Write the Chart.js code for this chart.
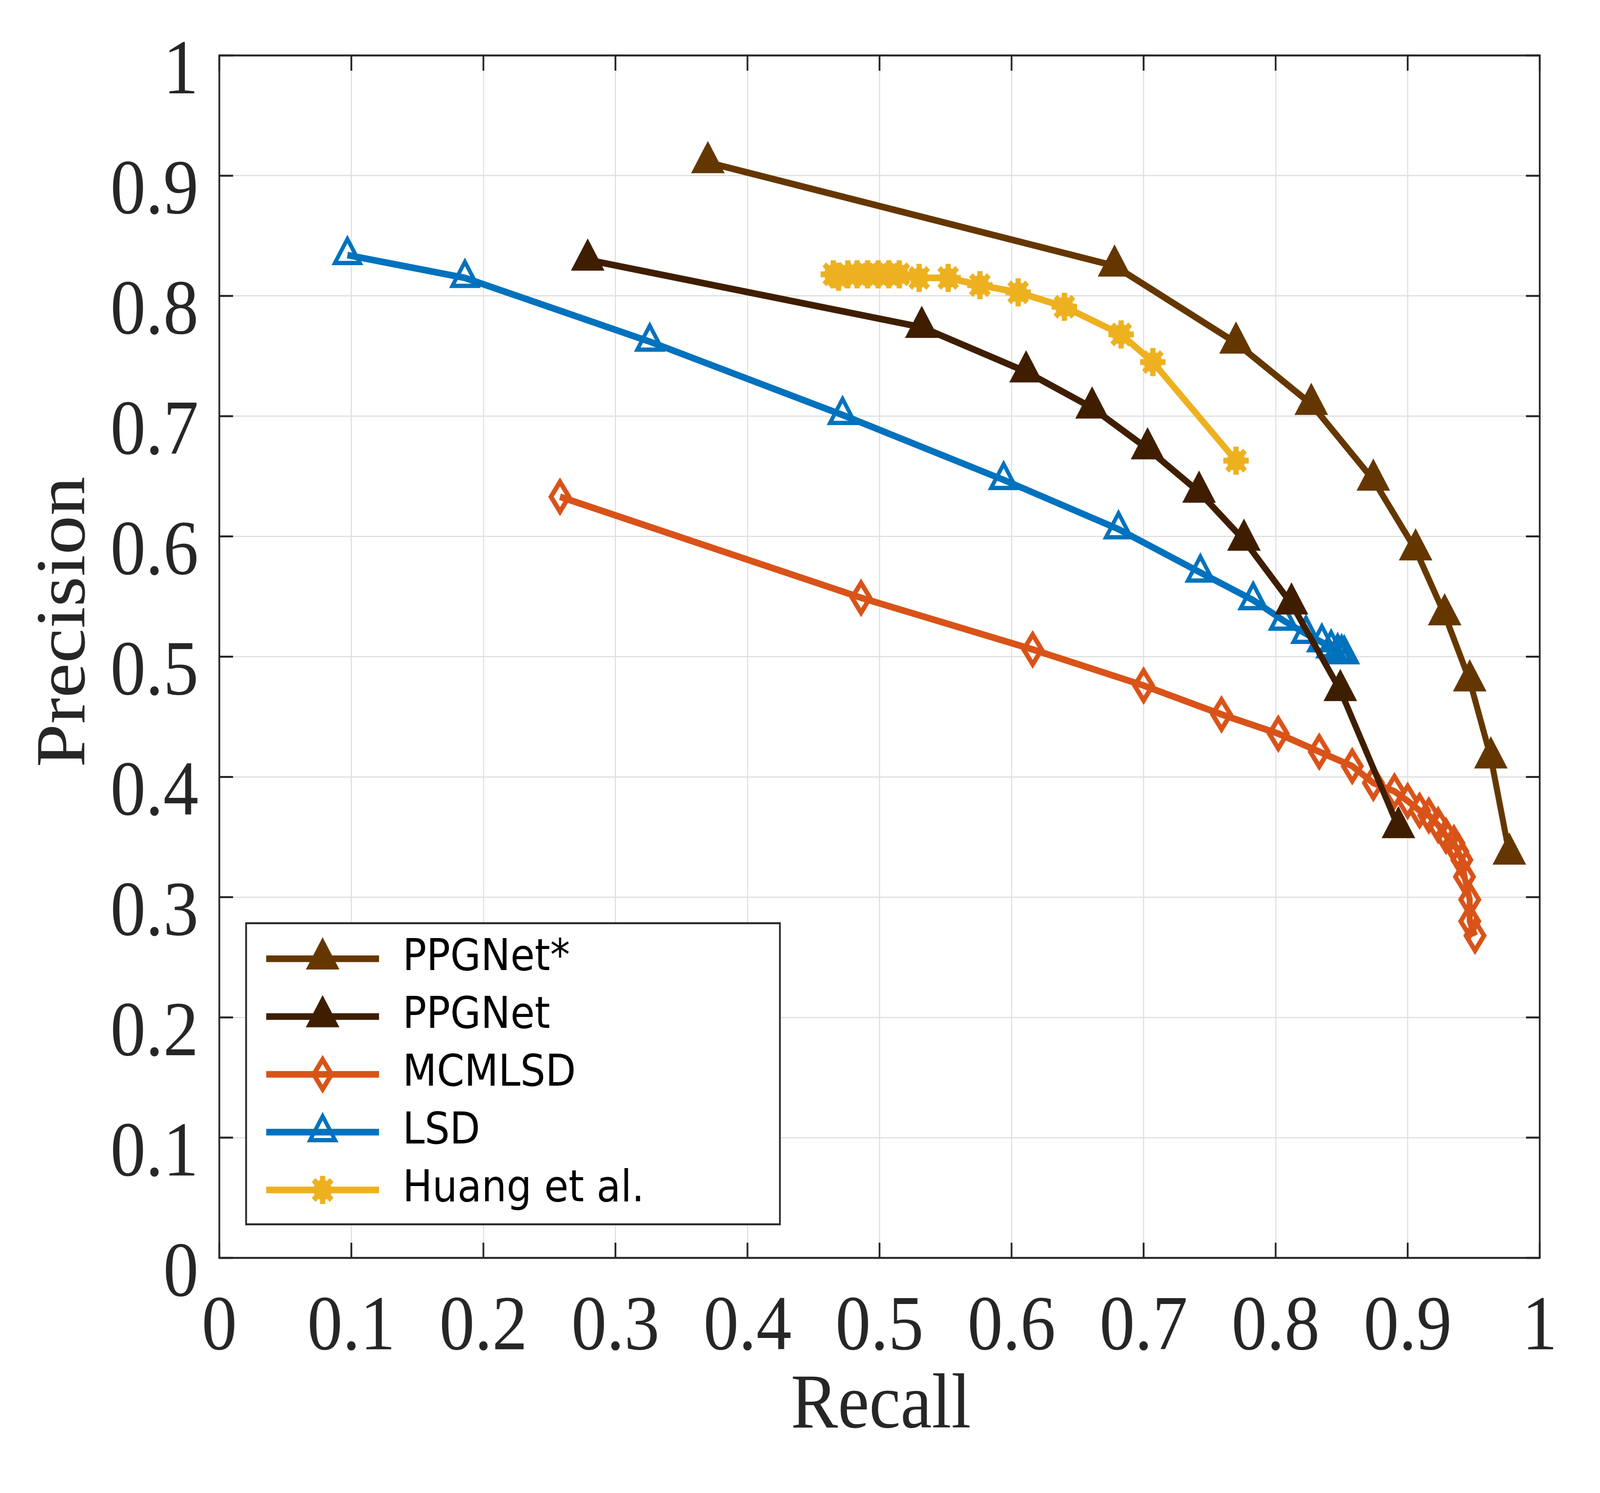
<!DOCTYPE html>
<html>
<head>
<meta charset="utf-8">
<script src="https://cdn.jsdelivr.net/npm/chart.js@4.4.0/dist/chart.umd.min.js"></script>
<style>
  html, body { margin: 0; padding: 0; background: #fff; overflow: hidden; }
  #wrap { width: 4538px; height: 3823px; position: absolute; left: 0; top: 0; transform-origin: 0 0; }
</style>
</head>
<body>
<div id="wrap"><canvas id="chart"></canvas></div>
<script>
// ── precision / recall curves ─────────────────────
var seriesNames = ['PPGNet*', 'PPGNet', 'MCMLSD', 'LSD', 'Huang et al.'];
var axisTicks   = [0, 0.1, 0.2, 0.3, 0.4, 0.5, 0.6, 0.7, 0.8, 0.9, 1];

var ppgStarRecall    = [0.370, 0.678, 0.770, 0.827, 0.874, 0.906, 0.928, 0.947, 0.963, 0.977];
var ppgStarPrecision = [0.911, 0.825, 0.761, 0.710, 0.647, 0.589, 0.535, 0.480, 0.416, 0.336];

var ppgRecall    = [0.279, 0.532, 0.611, 0.661, 0.703, 0.742, 0.776, 0.812, 0.849, 0.893];
var ppgPrecision = [0.830, 0.774, 0.737, 0.707, 0.673, 0.637, 0.597, 0.544, 0.472, 0.358];

var mcmlsdRecall    = [0.258, 0.486, 0.616, 0.700, 0.759, 0.802, 0.833, 0.858, 0.874, 0.890, 0.900,
                       0.909, 0.916, 0.923, 0.929, 0.935, 0.938, 0.941, 0.943, 0.947, 0.947, 0.951];
var mcmlsdPrecision = [0.633, 0.549, 0.506, 0.476, 0.452, 0.436, 0.421, 0.409, 0.395, 0.388, 0.380,
                       0.372, 0.368, 0.360, 0.351, 0.345, 0.338, 0.331, 0.317, 0.298, 0.280, 0.268];

var lsdRecall    = [0.097, 0.186, 0.326, 0.472, 0.594, 0.681, 0.743, 0.783, 0.806, 0.823, 0.835,
                    0.842, 0.847, 0.850, 0.852];
var lsdPrecision = [0.834, 0.815, 0.762, 0.701, 0.647, 0.606, 0.570, 0.547, 0.530, 0.519, 0.512,
                    0.507, 0.504, 0.503, 0.502];

var huangRecall    = [0.465, 0.469, 0.476, 0.483, 0.491, 0.499, 0.507, 0.515, 0.530, 0.552, 0.576,
                      0.605, 0.640, 0.683, 0.707, 0.770];
var huangPrecision = [0.818, 0.816, 0.818, 0.818, 0.818, 0.818, 0.818, 0.818, 0.815, 0.815, 0.809,
                      0.803, 0.791, 0.768, 0.745, 0.663];

var INK = '#262626';
var SERIF = '"Liberation Serif", "Times New Roman", serif';
var CLEAR = 'rgba(0,0,0,0)';

// the figure is laid out at 4538 x 3823; fit it onto whatever the viewport really is
var wrap = document.getElementById('wrap');
wrap.style.transform = 'scale(' + (window.innerWidth / 4538) + ',' + (window.innerHeight / 3823) + ')';

function pts(xs, ys) {
  return xs.map(function (x, i) { return { x: x, y: ys[i] }; });
}

// hollow diamond, taller than wide
function makeDiamond(color) {
  var c = document.createElement('canvas');
  c.width = 80; c.height = 120;
  var g = c.getContext('2d');
  g.strokeStyle = color; g.lineWidth = 13; g.lineJoin = 'miter';
  g.beginPath();
  g.moveTo(40, 22); g.lineTo(65.5, 60); g.lineTo(40, 98); g.lineTo(14.5, 60);
  g.closePath();
  g.stroke();
  return c;
}

// thick asterisk, reads as a filled gear
function makeAsterisk(color) {
  var c = document.createElement('canvas');
  c.width = 84; c.height = 84;
  var g = c.getContext('2d');
  g.fillStyle = color;
  g.beginPath(); g.arc(42, 42, 26, 0, 2 * Math.PI); g.fill();
  g.strokeStyle = color; g.lineWidth = 15; g.lineCap = 'butt';
  for (var i = 0; i < 4; i++) {
    var a = i * Math.PI / 4;
    g.beginPath();
    g.moveTo(42 - 36 * Math.cos(a), 42 - 36 * Math.sin(a));
    g.lineTo(42 + 36 * Math.cos(a), 42 + 36 * Math.sin(a));
    g.stroke();
  }
  return c;
}

function series(label, data, color, style, radius, fill, bw) {
  return {
    label: label,
    data: data,
    borderColor: color,
    borderWidth: 17,
    tension: 0,
    fill: false,
    pointStyle: style,
    pointRadius: radius,
    pointBackgroundColor: fill,
    pointBorderColor: color,
    pointBorderWidth: bw,
  };
}

function drawMarker(ctx, ds, x, y) {
  var st = ds.pointStyle;
  if (typeof st !== 'string') { ctx.drawImage(st, x - st.width / 2, y - st.height / 2); return; }
  var r = ds.pointRadius;
  ctx.beginPath();
  for (var i = 0; i < 3; i++) {
    var ang = i * 2 * Math.PI / 3;
    var px = x + Math.sin(ang) * r, py = y - Math.cos(ang) * r;
    if (i) ctx.lineTo(px, py); else ctx.moveTo(px, py);
  }
  ctx.closePath();
  ctx.fillStyle = ds.pointBackgroundColor; ctx.fill();
  ctx.strokeStyle = ds.pointBorderColor; ctx.lineWidth = ds.pointBorderWidth; ctx.stroke();
}

function drawLegend(chart) {
  var ctx = chart.ctx, a = chart.chartArea;
  var L = a.left + 76, T = a.top + 2222, W = 1514, H = 771;
  ctx.save();
  ctx.fillStyle = '#fff'; ctx.fillRect(L, T, W, H);
  ctx.strokeStyle = INK; ctx.lineWidth = 5; ctx.strokeRect(L, T, W, H);
  chart.data.datasets.forEach(function (ds, i) {
    var y = T + 91 + i * 148;
    ctx.strokeStyle = ds.borderColor; ctx.lineWidth = ds.borderWidth;
    ctx.beginPath(); ctx.moveTo(L + 57, y); ctx.lineTo(L + 377, y); ctx.stroke();
    drawMarker(ctx, ds, L + 217, y);
    ctx.fillStyle = '#000';
    ctx.font = '112px "DejaVu Sans"';
    ctx.textBaseline = 'middle'; ctx.textAlign = 'left';
    ctx.fillText(ds.label, L + 444, y);
  });
  ctx.restore();
}

// box + inward ticks on all four sides, axis titles, then the legend
var framePlugin = {
  id: 'frame',
  afterDraw: function (chart) {
    var ctx = chart.ctx, a = chart.chartArea, xs = chart.scales.x, ys = chart.scales.y;
    ctx.save();
    ctx.strokeStyle = INK; ctx.lineWidth = 5;
    ctx.beginPath();
    axisTicks.forEach(function (v) {
      var px = xs.getPixelForValue(v), py = ys.getPixelForValue(v);
      ctx.moveTo(px, a.bottom); ctx.lineTo(px, a.bottom - 39);
      ctx.moveTo(px, a.top);    ctx.lineTo(px, a.top + 39);
      ctx.moveTo(a.left, py);   ctx.lineTo(a.left + 39, py);
      ctx.moveTo(a.right, py);  ctx.lineTo(a.right - 39, py);
    });
    ctx.stroke();
    ctx.strokeRect(a.left, a.top, a.right - a.left, a.bottom - a.top);

    ctx.fillStyle = INK;
    ctx.font = '200px ' + SERIF;
    ctx.textAlign = 'center'; ctx.textBaseline = 'middle';
    ctx.fillText('Recall', (a.left + a.right) / 2 + 4, a.bottom + 381);
    ctx.translate(186, (a.top + a.bottom) / 2 - 89);
    ctx.rotate(-Math.PI / 2);
    ctx.fillText('Precision', 0, 0);
    ctx.restore();
    drawLegend(chart);
  }
};

function fixedTicks(scale) {
  scale.ticks = axisTicks.map(function (v) { return { value: v }; });
}

Chart.defaults.font.family = SERIF;
Chart.defaults.color = INK;

var tickFont = { size: 200, family: SERIF };

new Chart(document.getElementById('chart'), {
  type: 'line',
  data: {
    datasets: [
      series(seriesNames[0], pts(ppgStarRecall, ppgStarPrecision), '#653700', 'triangle', 50, '#653700', 5),
      series(seriesNames[1], pts(ppgRecall, ppgPrecision),         '#3f1e00', 'triangle', 50, '#3f1e00', 5),
      series(seriesNames[2], pts(mcmlsdRecall, mcmlsdPrecision),   '#d95319', makeDiamond('#d95319'), 34, CLEAR, 0),
      series(seriesNames[3], pts(lsdRecall, lsdPrecision),         '#0072bd', 'triangle', 41, CLEAR, 11),
      series(seriesNames[4], pts(huangRecall, huangPrecision),     '#edb120', makeAsterisk('#edb120'), 36, '#edb120', 0),
    ],
  },
  options: {
    responsive: true,
    maintainAspectRatio: false,
    animation: false,
    events: [],
    layout: { padding: { left: 0, right: 171, top: 142, bottom: 0 } },
    plugins: { legend: { display: false }, tooltip: { enabled: false } },
    scales: {
      x: {
        type: 'linear', min: 0, max: 1,
        afterBuildTicks: fixedTicks,
        afterFit: function (s) { s.height = 602; },
        // invisible tick marks carry the label gap so it does not inflate the axis padding
        grid: { color: '#dfdfdf', lineWidth: 3, drawTicks: true, tickLength: 61, tickColor: CLEAR },
        border: { display: false },
        ticks: { font: tickFont, color: INK, padding: 0, maxRotation: 0,
                 callback: function (v) { return String(v); } },
      },
      y: {
        type: 'linear', min: 0, max: 1,
        afterBuildTicks: fixedTicks,
        afterFit: function (s) { s.width = 622; },
        grid: { color: '#dfdfdf', lineWidth: 3, drawTicks: true, tickLength: 59, tickColor: CLEAR },
        border: { display: false },
        ticks: { font: tickFont, color: INK, padding: 0, labelOffset: 44,
                 callback: function (v) { return String(v); } },
      },
    },
  },
  plugins: [framePlugin],
});
</script>
</body>
</html>
